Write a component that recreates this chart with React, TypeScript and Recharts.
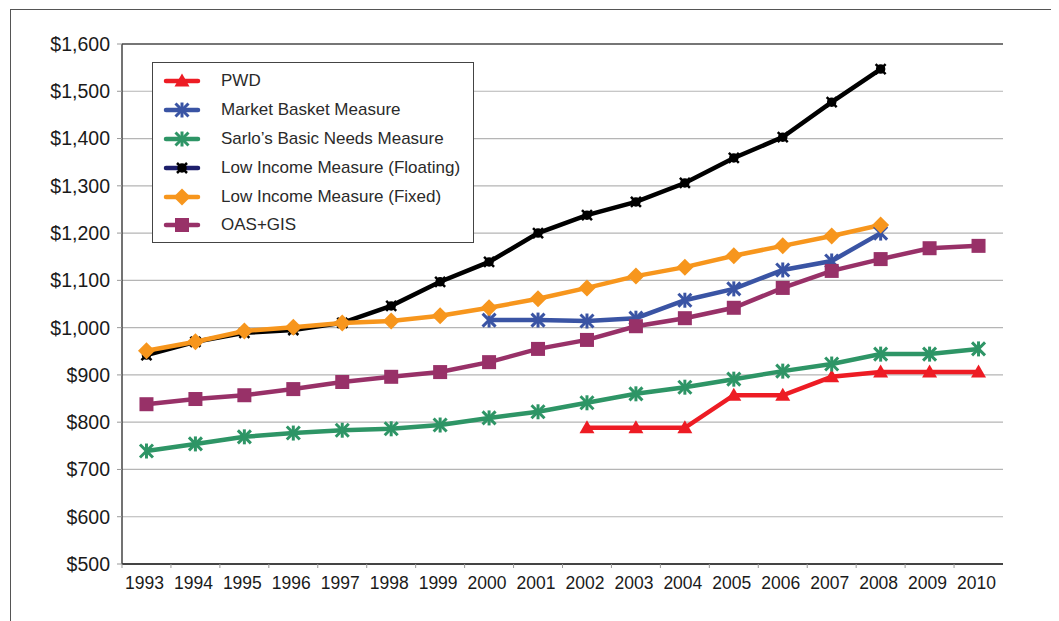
import React from 'react'
import {
  LineChart,
  Line,
  XAxis,
  YAxis,
  CartesianGrid,
  ReferenceLine,
} from 'recharts'

// Years on the category axis
const years = [
  '1993', '1994', '1995', '1996', '1997', '1998', '1999', '2000', '2001',
  '2002', '2003', '2004', '2005', '2006', '2007', '2008', '2009', '2010',
]

// Monthly amounts (null = no value for that year)
const pwd = [
  null, null, null, null, null, null, null, null, null,
  788, 788, 788, 857, 857, 896, 906, 906, 906,
]
const marketBasket = [
  null, null, null, null, null, null, null, 1016, 1016,
  1014, 1020, 1058, 1082, 1122, 1141, 1200, null, null,
]
const sarlo = [
  739, 754, 769, 777, 783, 786, 794, 809, 822,
  841, 860, 874, 891, 908, 923, 944, 944, 955,
]
const limFloating = [
  942, 970, 989, 995, 1010, 1046, 1097, 1139, 1200,
  1238, 1266, 1306, 1359, 1403, 1477, 1547, null, null,
]
const limFixed = [
  951, 970, 993, 1001, 1010, 1014, 1025, 1042, 1061,
  1084, 1109, 1128, 1152, 1173, 1194, 1217, null, null,
]
const oasGis = [
  838, 849, 857, 870, 885, 896, 906, 927, 955,
  974, 1003, 1020, 1042, 1084, 1120, 1145, 1168, 1173,
]

const yTicks = [500, 600, 700, 800, 900, 1000, 1100, 1200, 1300, 1400, 1500, 1600]

const data = years.map((year, i) => ({
  year,
  pwd: pwd[i],
  mbm: marketBasket[i],
  sarlo: sarlo[i],
  limFloat: limFloating[i],
  limFixed: limFixed[i],
  oas: oasGis[i],
}))

const FONT = "'Liberation Sans', Arial, Helvetica, sans-serif"
const HALF_STEP = 24.47

type Shape = 'triangle' | 'star' | 'small' | 'diamond' | 'square'

// draws one marker centred on cx, cy
const Marker = ({ cx, cy, shape, color }: { cx: number; cy: number; shape: Shape; color: string }) => {
  if (cx == null || cy == null) return null
  switch (shape) {
    case 'triangle':
      return <polygon points={`${cx},${cy - 7.5} ${cx + 7.5},${cy + 5.5} ${cx - 7.5},${cy + 5.5}`} fill={color} />
    case 'diamond':
      return <polygon points={`${cx},${cy - 8.5} ${cx + 8.5},${cy} ${cx},${cy + 8.5} ${cx - 8.5},${cy}`} fill={color} />
    case 'square':
      return <rect x={cx - 7} y={cy - 7} width={14} height={14} fill={color} />
    case 'small':
      return (
        <g stroke={color} strokeWidth={2.5}>
          <circle cx={cx} cy={cy} r={3.5} fill={color} />
          <line x1={cx - 5} y1={cy - 5} x2={cx + 5} y2={cy + 5} />
          <line x1={cx - 5} y1={cy + 5} x2={cx + 5} y2={cy - 5} />
        </g>
      )
    default:
      return (
        <g stroke={color} strokeWidth={3}>
          <line x1={cx - 6.5} y1={cy - 6.5} x2={cx + 6.5} y2={cy + 6.5} />
          <line x1={cx - 6.5} y1={cy + 6.5} x2={cx + 6.5} y2={cy - 6.5} />
          <line x1={cx} y1={cy - 7.5} x2={cx} y2={cy + 7.5} />
        </g>
      )
  }
}

const series = [
  { key: 'pwd', name: 'PWD', color: '#ed1c24', legendLine: '#ed1c24', shape: 'triangle' as Shape },
  { key: 'mbm', name: 'Market Basket Measure', color: '#3a54a4', legendLine: '#3a54a4', shape: 'star' as Shape },
  { key: 'sarlo', name: 'Sarlo\u2019s Basic Needs Measure', color: '#2e9566', legendLine: '#2e9566', shape: 'star' as Shape },
  { key: 'limFloat', name: 'Low Income Measure (Floating)', color: '#000000', legendLine: '#1d1f6b', shape: 'small' as Shape },
  { key: 'limFixed', name: 'Low Income Measure (Fixed)', color: '#f7961d', legendLine: '#f7961d', shape: 'diamond' as Shape },
  { key: 'oas', name: 'OAS+GIS', color: '#983168', legendLine: '#983168', shape: 'square' as Shape },
]

// year label plus a tick mark on the left edge of each category
const YearTick = (props: any) => {
  const { x, y, payload } = props
  return (
    <g>
      <line x1={x - HALF_STEP} y1={y} x2={x - HALF_STEP} y2={y + 4} stroke="#999" />
      <text x={x - 2} y={y + 13} dy="0.71em" textAnchor="middle" fill="#1a1a1a" fontSize={17.5} fontFamily={FONT}>
        {payload.value}
      </text>
    </g>
  )
}

const LegendBox = () => (
  <div
    style={{
      position: 'absolute',
      left: 144,
      top: 54,
      width: 322,
      height: 181,
      border: '1px solid #444',
      background: '#fff',
      paddingTop: 4,
      boxSizing: 'border-box',
      fontFamily: FONT,
      fontSize: 17,
      color: '#2a2a2a',
    }}
  >
    {series.map((s) => (
      <div key={s.key} style={{ height: 28.8, display: 'flex', alignItems: 'center', whiteSpace: 'nowrap' }}>
        <svg width={60} height={20} style={{ marginLeft: 8, flexShrink: 0 }}>
          <line x1={5} y1={10} x2={37} y2={10} stroke={s.legendLine} strokeWidth={4.5} strokeLinecap="round" />
          <Marker cx={21} cy={10} shape={s.shape} color={s.color} />
        </svg>
        <span>{s.name}</span>
      </div>
    ))}
  </div>
)

export default function App() {
  return (
    <div style={{ position: 'relative', width: 1051, height: 613, overflow: 'hidden', background: '#fff' }}>
      {/* outer frame, right and bottom edges fall outside the picture */}
      <div
        style={{
          position: 'absolute',
          left: 2,
          top: 1,
          width: 2000,
          height: 2000,
          border: '1.5px solid #555',
        }}
      />
      <div style={{ position: 'absolute', left: 0, top: 0 }}>
        <LineChart
          width={1040}
          height={610}
          data={data}
          margin={{ top: 36, right: 45, left: 0, bottom: 24 }}
        >
          <CartesianGrid vertical={false} stroke="#b5b5b5" strokeWidth={1.2} />
          <XAxis
            dataKey="year"
            height={30}
            padding={{ left: HALF_STEP, right: HALF_STEP }}
            tickLine={false}
            tickSize={0}
            tickMargin={0}
            interval={0}
            axisLine={{ stroke: '#444', strokeWidth: 2 }}
            tick={<YearTick />}
          />
          <YAxis
            domain={[500, 1600]}
            ticks={yTicks}
            width={114}
            tickSize={5}
            tickMargin={7}
            interval={0}
            axisLine={{ stroke: '#444', strokeWidth: 1.5 }}
            tickLine={{ stroke: '#999' }}
            tick={{ fill: '#1a1a1a', fontSize: 19.5, fontFamily: FONT }}
            tickFormatter={(v: number) => `$${v.toLocaleString('en-US')}`}
          />
          <YAxis
            yAxisId="frame"
            orientation="right"
            domain={[500, 1600]}
            width={0}
            tick={false}
            tickLine={false}
            axisLine={{ stroke: '#555', strokeWidth: 1.5 }}
          />
          <ReferenceLine y={1600} stroke="#555" strokeWidth={1.5} />
          {series.map((s) => (
            <Line
              key={s.key}
              type="linear"
              dataKey={s.key}
              name={s.name}
              stroke={s.color}
              strokeWidth={4.5}
              isAnimationActive={false}
              connectNulls={false}
              dot={(p: any) => <Marker key={`${s.key}-${p.index}`} cx={p.cx} cy={p.cy} shape={s.shape} color={s.color} />}
              activeDot={false}
            />
          ))}
        </LineChart>
      </div>
      <LegendBox />
    </div>
  )
}
